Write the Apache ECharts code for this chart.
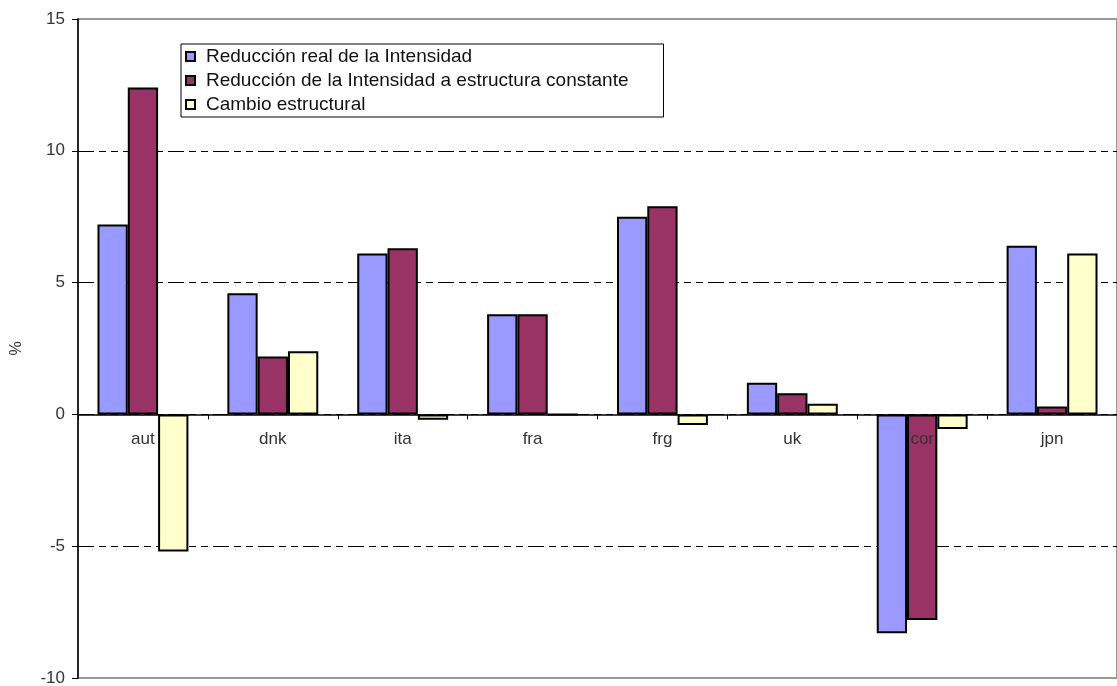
<!DOCTYPE html>
<html>
<head>
<meta charset="utf-8">
<script src="https://cdn.jsdelivr.net/npm/echarts@6/dist/echarts.min.js"></script>
<style>html,body{margin:0;padding:0;background:#fff}#c{width:1117px;height:686px}</style>
</head>
<body>
<div id="c"></div>
<script>
var categories = ['aut', 'dnk', 'ita', 'fra', 'frg', 'uk', 'cor', 'jpn'];
var seriesNames = ['Reducción real de la Intensidad', 'Reducción de la Intensidad a estructura constante', 'Cambio estructural'];
var realReduction = [7.2, 4.6, 6.1, 3.8, 7.5, 1.2, -8.3, 6.4];
var constantStructure = [12.4, 2.2, 6.3, 3.8, 7.9, 0.8, -7.8, 0.3];
var structuralChange = [-5.2, 2.4, -0.2, 0.0, -0.4, 0.4, -0.55, 6.1];
var yTicks = [-10, -5, 0, 5, 10, 15];

var colors = ['#9999FF', '#993366', '#FFFFCC'];
var font = 'Liberation Sans, Arial, sans-serif';
var chart = echarts.init(document.getElementById('c'));
function mk(i, data) {
  return {
    name: seriesNames[i], type: 'bar', data: data,
    barGap: '0%', barCategoryGap: '30%',
    itemStyle: { color: colors[i], borderColor: '#000', borderWidth: 2 }
  };
}
chart.setOption({
  animation: false,
  textStyle: { fontFamily: font },
  grid: { left: 78, right: 0, top: 19, bottom: 8, show: true, borderColor: '#999', borderWidth: 2, containLabel: false, outerBoundsMode: 'none' },
  legend: {
    orient: 'vertical', left: 181, top: 44,
    backgroundColor: '#fff', borderColor: '#000', borderWidth: 1,
    padding: [3, 35, 3, 4], itemGap: 5,
    itemWidth: 9, itemHeight: 9, icon: 'rect',
    itemStyle: { borderColor: '#000', borderWidth: 2 },
    formatter: function (n) { return '{t|' + n + '}'; },
    textStyle: { fontSize: 19, color: '#111', fontFamily: font,
      rich: { t: { fontSize: 19, color: '#111', fontFamily: font, padding: [0, 0, 0, 6] } } },
    data: seriesNames
  },
  xAxis: {
    type: 'category', data: categories, z: 5,
    axisLine: { onZero: true, lineStyle: { color: '#000', width: 1.5 } },
    axisTick: { show: true, length: 5, lineStyle: { color: '#000' } },
    axisLabel: { fontSize: 17, color: '#333', margin: -247 }
  },
  yAxis: {
    type: 'value', min: -10, max: 15, interval: 5,
    name: '%', nameLocation: 'middle', nameGap: 53, nameRotate: 90,
    nameTextStyle: { fontSize: 16, color: '#333' },
    axisLine: { show: true, lineStyle: { color: '#000', width: 1.5 } },
    axisTick: { show: true, length: 6, lineStyle: { color: '#000' } },
    axisLabel: { fontSize: 17, color: '#333', margin: 13, formatter: function (v) { return yTicks.indexOf(v) >= 0 ? String(v) : ''; } },
    splitLine: { show: true, showMinLine: false, showMaxLine: false, lineStyle: { color: '#000', width: 1.2, type: [16, 5, 7, 5, 7, 5] } }
  },
  series: [mk(0, realReduction), mk(1, constantStructure), mk(2, structuralChange)]
});
</script>
</body>
</html>
